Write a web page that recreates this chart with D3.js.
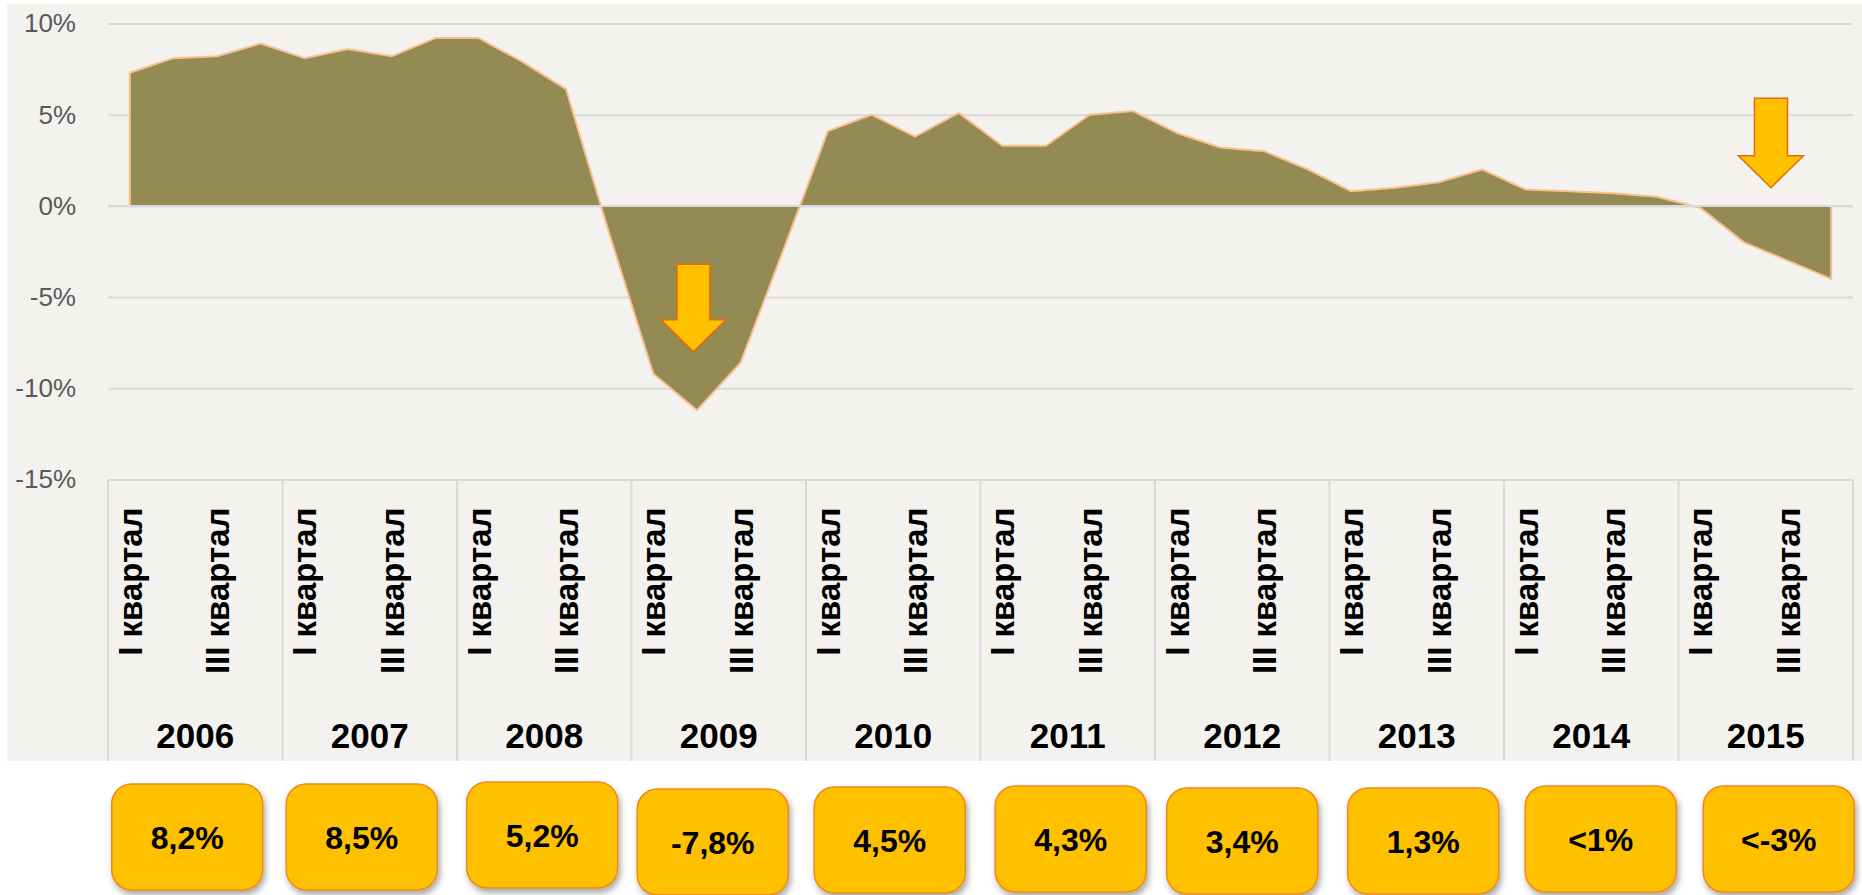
<!DOCTYPE html>
<html>
<head>
<meta charset="utf-8">
<script src="https://cdn.jsdelivr.net/npm/d3@7/dist/d3.min.js"></script>
<style>
  body { margin: 0; background: #ffffff; }
  svg { display: block; font-family: "Liberation Sans", Arial, sans-serif; }
</style>
</head>
<body>
<div id="chart"></div>
<script>
// ******************************** DATA ***************************************
var years = ["2006", "2007", "2008", "2009", "2010", "2011", "2012", "2013", "2014", "2015"];
var quarterNames = ["I квартал", "II квартал", "III квартал", "IV квартал"];

// GDP growth by quarter, %
var growth = [
  7.3, 8.1, 8.2, 8.9,
  8.1, 8.6, 8.2, 9.2,
  9.2, 7.9, 6.4, -1.6,
  -9.2, -11.2, -8.6, -2.3,
  4.1, 5.0, 3.8, 5.1,
  3.3, 3.3, 5.0, 5.2,
  4.0, 3.2, 3.0, 2.0,
  0.8, 1.0, 1.3, 2.0,
  0.9, 0.8, 0.7, 0.5,
  -0.1, -2.0, -3.0, -4.0
];

// yearly totals shown in the boxes under the chart
var yearTotals = ["8,2%", "8,5%", "5,2%", "-7,8%", "4,5%", "4,3%", "3,4%", "1,3%", "<1%", "<-3%"];

var yTicks = [-15, -10, -5, 0, 5, 10];

// down arrows: quarter position, start value, tip value
var arrowQuarter = [12.92, 37.62];
var arrowFrom = [-3.2, 5.9];
var arrowTo = [-8.0, 1.0];

// *************************** CANVAS SET UP ***********************************
var svgWidth = 1862,
    svgHeight = 895;

var margin = {left: 108, right: 9, top: 23.5, bottom: 415.5};

var chartWidth = svgWidth - margin.left - margin.right,   // 1745
    chartHeight = svgHeight - margin.top - margin.bottom; // 456

var categoryBottom = 761 - margin.top;  // bottom of the label boxes

var svg = d3.select("#chart")
  .append("svg")
    .attr("width", svgWidth)
    .attr("height", svgHeight);

var defs = svg.append("defs");
var shadow = defs.append("filter")
    .attr("id", "shadow")
    .attr("x", "-20%").attr("y", "-20%")
    .attr("width", "150%").attr("height", "150%");
shadow.append("feDropShadow")
    .attr("dx", 2).attr("dy", 4)
    .attr("stdDeviation", 3)
    .attr("flood-color", "#000")
    .attr("flood-opacity", 0.35);

// chart background
svg.append("rect")
    .attr("x", 7)
    .attr("y", 4)
    .attr("width", svgWidth - 7)
    .attr("height", 757)
    .attr("fill", "#f3f2ee");

var chartGroup = svg.append("g")
    .attr("transform", `translate(${margin.left}, ${margin.top})`);

// ******************************* SCALES **************************************
var xBand = d3.scaleBand()
    .domain(years)
    .range([0, chartWidth])
    .padding(0);

var xQuarter = d3.scaleLinear()
    .domain([0, growth.length])
    .range([0, chartWidth]);

var yScale = d3.scaleLinear()
    .domain([-15, 10])
    .range([chartHeight, 0]);

// ******************************** AXES ***************************************
var yAxis = d3.axisLeft(yScale)
    .tickValues(yTicks)
    .tickSize(-chartWidth)
    .tickPadding(32)
    .tickFormat(d => d + "%");

var yAxisGroup = chartGroup.append("g").call(yAxis);
yAxisGroup.select(".domain").remove();
yAxisGroup.selectAll(".tick line")
    .attr("stroke", "#d9d9d9")
    .attr("stroke-width", 2);
yAxisGroup.selectAll(".tick text")
    .attr("fill", "#595959")
    .attr("font-size", 26)
    .attr("font-family", "Liberation Sans, Arial, sans-serif");

// ******************************** AREA ***************************************
var area = d3.area()
    .x((d, i) => xQuarter(i + 0.5))
    .y0(yScale(0))
    .y1(d => yScale(d));

chartGroup.append("path")
    .datum(growth)
    .attr("d", area)
    .attr("fill", "#948a54")
    .attr("stroke", "#fac090")
    .attr("stroke-width", 2)
    .attr("stroke-linejoin", "round");

// zero line sits on top of the area
chartGroup.append("line")
    .attr("x1", 0)
    .attr("x2", chartWidth)
    .attr("y1", yScale(0))
    .attr("y2", yScale(0))
    .attr("stroke", "#d9d9d9")
    .attr("stroke-width", 2);

// ******************************* ARROWS **************************************
function arrowPath(cx, yTop, yTip) {
  var shaft = 16.5, head = 32.5, headLen = 32;
  return d3.line()([
    [cx - shaft, yTop], [cx + shaft, yTop], [cx + shaft, yTip - headLen],
    [cx + head, yTip - headLen], [cx, yTip], [cx - head, yTip - headLen],
    [cx - shaft, yTip - headLen]
  ]) + "Z";
}

chartGroup.selectAll(".arrow")
    .data(arrowQuarter)
    .enter()
    .append("path")
      .classed("arrow", true)
      .attr("d", (d, i) => arrowPath(xQuarter(d + 0.5), yScale(arrowFrom[i]), yScale(arrowTo[i])))
      .attr("fill", "#ffc000")
      .attr("stroke", "#e46c0a")
      .attr("stroke-width", 1.5);

// *************************** CATEGORY LABELS *********************************
// year separators
chartGroup.selectAll(".sep")
    .data(d3.range(years.length + 1))
    .enter()
    .append("line")
      .classed("sep", true)
      .attr("x1", d => d * xBand.bandwidth())
      .attr("x2", d => d * xBand.bandwidth())
      .attr("y1", chartHeight)
      .attr("y2", categoryBottom)
      .attr("stroke", "#d9d9d9")
      .attr("stroke-width", 2);

// quarter labels: Excel only has room for I and III
var quarterLabels = [];
years.forEach(function(yr, j) {
  quarterNames.forEach(function(q, k) {
    if (k % 2 === 0) quarterLabels.push({i: j * 4 + k, text: q});
  });
});

chartGroup.selectAll(".qLabel")
    .data(quarterLabels)
    .enter()
    .append("text")
      .classed("qLabel", true)
      .attr("transform", d => `translate(${xQuarter(d.i + 0.5) + 12}, ${chartHeight + 28}) rotate(-90)`)
      .attr("text-anchor", "end")
      .attr("font-size", 33)
      .attr("font-weight", "bold")
      .attr("fill", "#000")
      .text(d => d.text);

chartGroup.selectAll(".yLabel")
    .data(years)
    .enter()
    .append("text")
      .classed("yLabel", true)
      .attr("x", d => xBand(d) + xBand.bandwidth() / 2)
      .attr("y", 748 - margin.top)
      .attr("text-anchor", "middle")
      .attr("font-size", 35)
      .attr("font-weight", "bold")
      .attr("fill", "#000")
      .text(d => d);

// **************************** YEARLY BOXES ***********************************
var boxW = 151, boxH = 106;
var boxShiftX = [-8, -8, -2, -6, -3.5, 3, 0, 6.5, 9.5, 13];
var boxTopY = [784, 784, 782, 789, 787, 786, 788, 788, 786, 786];

var boxes = chartGroup.selectAll(".box")
    .data(yearTotals)
    .enter()
    .append("g")
      .classed("box", true)
      .attr("transform", (d, i) => `translate(${xBand(years[i]) + xBand.bandwidth() / 2 + boxShiftX[i]}, ${boxTopY[i] - margin.top})`);

boxes.append("rect")
    .attr("x", -boxW / 2)
    .attr("y", 0)
    .attr("width", boxW)
    .attr("height", boxH)
    .attr("rx", 20)
    .attr("fill", "#ffc000")
    .attr("stroke", "#ec8a1c")
    .attr("stroke-width", 1.5)
    .attr("filter", "url(#shadow)");

boxes.append("text")
    .attr("x", 0)
    .attr("y", boxH / 2 + 12)
    .attr("text-anchor", "middle")
    .attr("font-size", 32)
    .attr("font-weight", "bold")
    .attr("fill", "#000")
    .text(d => d);
</script>
</body>
</html>
